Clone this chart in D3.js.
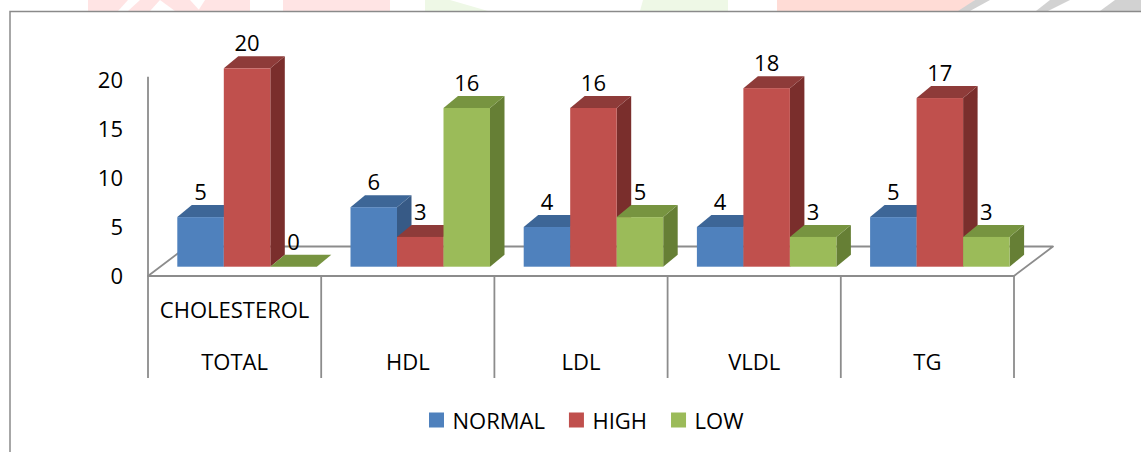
<!DOCTYPE html>
<html>
<head>
<meta charset="utf-8">
<script src="https://cdn.jsdelivr.net/npm/d3@7"></script>
<style>
  html, body { margin: 0; padding: 0; background: #ffffff; }
  svg { display: block; font-family: "Open Sans", sans-serif; }
</style>
</head>
<body>
<svg id="chart" width="1141" height="452"></svg>
<script>
// Lipid profile distribution: counts of NORMAL / HIGH / LOW per parameter
const categories = ["TOTAL", "HDL", "LDL", "VLDL", "TG"];
const subLabels = ["CHOLESTEROL", "", "", "", ""];
const series = ["NORMAL", "HIGH", "LOW"];
const normalValues = [5, 6, 4, 4, 5];
const highValues = [20, 3, 16, 18, 17];
const lowValues = [0, 16, 5, 3, 3];
const yTicks = [0, 5, 10, 15, 20];

const seriesValues = [normalValues, highValues, lowValues];
const frontColors = ["#4F81BD", "#C0504D", "#9BBB59"];
const topColors = ["#3D6697", "#8E3B39", "#779440"];
const sideColors = ["#375A86", "#7A2E2C", "#667F35"];

const svg = d3.select("#chart");

// faint banner strip along the top edge
const banner = svg.append("g").attr("class", "banner");
const bannerShapes = [
  { pts: [[88,0],[128,0],[118,11],[88,11]], c: "#FFE4E4" },
  { pts: [[140,0],[160,0],[150,11],[128,11]], c: "#FFE4E4" },
  { pts: [[160,0],[190,0],[200,11],[175,11]], c: "#FFE4E4" },
  { pts: [[205,0],[250,0],[250,11],[198,11]], c: "#FFE4E4" },
  { pts: [[283,0],[390,0],[390,11],[283,11]], c: "#FFE4E4" },
  { pts: [[425,0],[450,0],[488,11],[425,11]], c: "#EEF8E6" },
  { pts: [[643,0],[728,0],[728,11],[640,11]], c: "#EEF8E6" },
  { pts: [[777,0],[975,0],[962,11],[777,11]], c: "#FFDCD6" },
  { pts: [[975,0],[990,0],[970,11],[958,11]], c: "#D2D2D2" },
  { pts: [[1050,0],[1070,0],[1048,11],[1036,11]], c: "#D2D2D2" },
  { pts: [[1115,0],[1141,0],[1141,11],[1100,11]], c: "#D2D2D2" }
];
banner.selectAll("polygon").data(bannerShapes).join("polygon")
  .attr("points", d => d.pts.map(p => p.join(",")).join(" "))
  .attr("fill", d => d.c);

// chart frame
svg.append("path")
  .attr("d", "M10,452 L10,11.5 L1141,11.5")
  .attr("fill", "none").attr("stroke", "#8A8A8A").attr("stroke-width", 1.5);

// scales
const x = d3.scaleBand().domain(categories).range([148, 1014]).padding(0);
const xInner = d3.scaleBand().domain(series).range([29.3, 168.8]).padding(0);
const yAxisScale = d3.scaleLinear().domain([0, 20]).range([276, 80.7]);
const yBar = d3.scaleLinear().domain([0, 20]).range([266.7, 68.3]);

const depthX = 14.5, depthY = -12;
const floorFront = 276, floorBack = 246.5, floorShift = 39;
const gridColor = "#8C8C8C";

// floor
const x0 = x.range()[0], x1 = x.range()[1];
svg.append("polygon")
  .attr("points", [[x0, floorFront], [x1, floorFront], [x1 + floorShift, floorBack], [x0 + floorShift, floorBack]]
    .map(p => p.join(",")).join(" "))
  .attr("fill", "#ffffff").attr("stroke", gridColor).attr("stroke-width", 1.8)
  .attr("stroke-linejoin", "round");

// value axis
const yAxis = d3.axisLeft(yAxisScale).tickValues(yTicks).tickSize(0).tickPadding(25);
const yG = svg.append("g").attr("transform", `translate(${x0},0)`).call(yAxis);
yG.select(".domain").remove();
yG.selectAll("text").attr("font-size", 22).attr("fill", "#000")
  .attr("font-family", "'Open Sans', sans-serif");
svg.append("line")
  .attr("x1", x0).attr("x2", x0).attr("y1", 76.7).attr("y2", floorFront)
  .attr("stroke", gridColor).attr("stroke-width", 1.8);

// category dividers
const edges = categories.map(c => x(c)).concat([x1]);
svg.selectAll("line.divider").data(edges).join("line")
  .attr("class", "divider")
  .attr("x1", d => d).attr("x2", d => d)
  .attr("y1", floorFront).attr("y2", 378)
  .attr("stroke", gridColor).attr("stroke-width", 1.8);

// category labels (two rows)
const labelG = svg.append("g").attr("font-size", 22).attr("fill", "#000").attr("text-anchor", "middle");
labelG.selectAll("text.sub").data(categories).join("text")
  .attr("class", "sub")
  .attr("x", d => x(d) + x.bandwidth() / 2)
  .attr("y", 317.5)
  .text((d, i) => subLabels[i]);
labelG.selectAll("text.cat").data(categories).join("text")
  .attr("class", "cat")
  .attr("x", d => x(d) + x.bandwidth() / 2)
  .attr("y", 369.5)
  .text(d => d);

// bars
const barData = [];
categories.forEach((c, ci) => {
  series.forEach((s, si) => {
    barData.push({ cat: c, s, si, v: seriesValues[si][ci] });
  });
});

const barsG = svg.append("g");
const bw = xInner.bandwidth();
barData.forEach(d => {
  const bx = x(d.cat) + xInner(d.s);
  const yb = yBar(0);
  const yt = yBar(d.v);
  const g = barsG.append("g");
  if (d.v > 0) {
    g.append("polygon")
      .attr("points", [[bx + bw, yt], [bx + bw + depthX, yt + depthY], [bx + bw + depthX, yb + depthY], [bx + bw, yb]]
        .map(p => p.join(",")).join(" "))
      .attr("fill", sideColors[d.si]);
  }
  g.append("polygon")
    .attr("points", [[bx, yt], [bx + depthX, yt + depthY], [bx + bw + depthX, yt + depthY], [bx + bw, yt]]
      .map(p => p.join(",")).join(" "))
    .attr("fill", topColors[d.si]);
  if (d.v > 0) {
    g.append("rect")
      .attr("x", bx).attr("y", yt)
      .attr("width", bw).attr("height", yb - yt)
      .attr("fill", frontColors[d.si]);
  }
});

// value labels
svg.append("g").attr("font-size", 22).attr("fill", "#000").attr("text-anchor", "middle")
  .selectAll("text").data(barData).join("text")
  .attr("x", d => x(d.cat) + xInner(d.s) + bw / 2)
  .attr("y", d => yBar(d.v) - 17)
  .text(d => d.v);

// legend
const legend = svg.append("g").attr("font-size", 22).attr("fill", "#000");
let lx = 429;
series.forEach((s, i) => {
  legend.append("rect").attr("x", lx).attr("y", 412.5).attr("width", 15).attr("height", 15)
    .attr("fill", frontColors[i]);
  const t = legend.append("text").attr("x", lx + 23.5).attr("y", 428.5).text(s);
  lx = lx + 23.5 + t.node().getComputedTextLength() + 24;
});
</script>
</body>
</html>
